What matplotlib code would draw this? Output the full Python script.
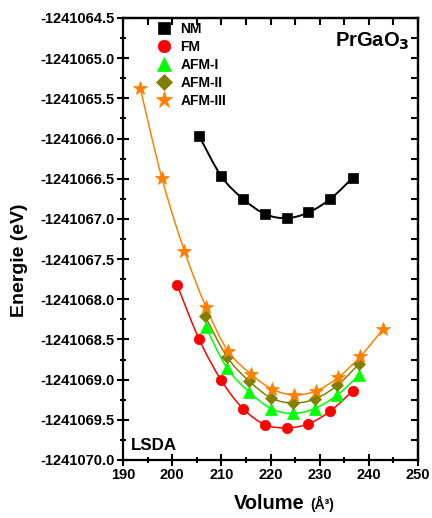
import matplotlib
matplotlib.use('Agg')
import matplotlib.pyplot as plt
from matplotlib.path import Path
from matplotlib.patches import PathPatch
from matplotlib.lines import Line2D
from matplotlib.ticker import MultipleLocator, FormatStrFormatter

plt.rcParams['font.family'] = ['Liberation Sans', 'DejaVu Sans']
plt.rcParams['font.weight'] = 'bold'

# volumes (A^3) and total energies (eV)
nm_v = [205.5, 210.0, 214.4, 218.9, 223.3, 227.7, 232.2, 236.7]
nm_e = [-1241065.97, -1241066.47, -1241066.75, -1241066.94, -1241066.99,
        -1241066.92, -1241066.75, -1241066.49]

fm_v = [201.0, 205.5, 210.0, 214.4, 218.9, 223.3, 227.7, 232.2, 236.7]
fm_e = [-1241067.82, -1241068.50, -1241069.01, -1241069.36, -1241069.56,
        -1241069.60, -1241069.55, -1241069.39, -1241069.14]

afm1_v = [206.8, 211.1, 215.6, 220.1, 224.5, 229.0, 233.6, 238.1]
afm1_e = [-1241068.34, -1241068.85, -1241069.15, -1241069.36, -1241069.42,
          -1241069.36, -1241069.19, -1241068.94]

afm2_v = [206.7, 211.2, 215.7, 220.2, 224.6, 229.1, 233.6, 238.1]
afm2_e = [-1241068.21, -1241068.72, -1241069.02, -1241069.23, -1241069.29,
          -1241069.24, -1241069.07, -1241068.80]

afm3_v = [193.5, 197.9, 202.5, 206.9, 211.3, 216.0, 220.4, 224.8, 229.3,
          233.8, 238.3, 242.9]
afm3_e = [-1241065.37, -1241066.49, -1241067.40, -1241068.10, -1241068.64,
          -1241068.93, -1241069.12, -1241069.19, -1241069.14, -1241068.97,
          -1241068.71, -1241068.37]

labels = ['NM', 'FM', 'AFM-I', 'AFM-II', 'AFM-III']
colors = ['#000000', '#ff0000', '#00ff00', '#808000', '#ff8000']
markers = ['s', 'o', '^', 'D', '*']
msizes = [6.5, 7.5, 8, 6.5, 10.5]
leg_sizes = [8, 9, 10, 8, 12.5]
series = [(nm_v, nm_e), (fm_v, fm_e), (afm1_v, afm1_e), (afm2_v, afm2_e), (afm3_v, afm3_e)]


def smooth_path(x, y):
    # catmull-rom through the points, handed to matplotlib as bezier segments
    pts = list(zip(x, y))
    n = len(pts)
    verts = [pts[0]]
    codes = [Path.MOVETO]
    for i in range(n - 1):
        p0 = pts[max(i - 1, 0)]
        p1 = pts[i]
        p2 = pts[i + 1]
        p3 = pts[min(i + 2, n - 1)]
        c1 = (p1[0] + (p2[0] - p0[0]) / 6, p1[1] + (p2[1] - p0[1]) / 6)
        c2 = (p2[0] - (p3[0] - p1[0]) / 6, p2[1] - (p3[1] - p1[1]) / 6)
        verts += [c1, c2, p2]
        codes += [Path.CURVE4] * 3
    return Path(verts, codes)


fig = plt.figure(figsize=(4.32, 5.18), dpi=100)
ax = fig.add_axes([123 / 432, 1 - 460 / 518, 295 / 432, 442 / 518])

order = [1, 2, 3, 4, 0]
for k in order:
    v, e = series[k]
    lw = 1.4 if k == 0 else 1.1
    ax.add_patch(PathPatch(smooth_path(v, e), facecolor='none', edgecolor=colors[k], lw=lw, zorder=2))
for k in order:
    v, e = series[k]
    ax.plot(v, e, linestyle='none', marker=markers[k], ms=msizes[k], color=colors[k],
            markeredgewidth=0.5, zorder=3)

ax.set_xlim(190, 250)
ax.set_ylim(-1241070.0, -1241064.5)
ax.xaxis.set_major_locator(MultipleLocator(10))
ax.xaxis.set_minor_locator(MultipleLocator(5))
ax.yaxis.set_major_locator(MultipleLocator(0.5))
ax.yaxis.set_minor_locator(MultipleLocator(0.25))
ax.yaxis.set_major_formatter(FormatStrFormatter('%.1f'))
ax.tick_params(which='major', direction='inout', length=8, width=1.5)
ax.tick_params(which='minor', direction='inout', length=5, width=1.5)
ax.tick_params(axis='y', labelsize=10.5, pad=2)
ax.tick_params(axis='x', labelsize=10.5, pad=2)
for lab in ax.get_xticklabels() + ax.get_yticklabels():
    lab.set_fontweight('bold')
for sp in ax.spines.values():
    sp.set_linewidth(1.6)

# inward ticks on the top and right frame
top = ax.secondary_xaxis('top')
top.xaxis.set_major_locator(MultipleLocator(10))
top.xaxis.set_minor_locator(MultipleLocator(5))
top.tick_params(which='both', direction='in', length=5, width=1.5, labeltop=False)
right = ax.secondary_yaxis('right')
right.yaxis.set_major_locator(MultipleLocator(0.5))
right.yaxis.set_minor_locator(MultipleLocator(0.25))
right.tick_params(which='both', direction='in', length=5, width=1.5, labelright=False)
for sec in (top, right):
    for sp in sec.spines.values():
        sp.set_linewidth(1.6)

ax.set_ylabel('Energie (eV)', fontsize=14, fontweight='bold')
ax.yaxis.label.set_va('baseline')
ax.yaxis.set_label_coords((24 - 123) / 295, 1 - (260 - 18) / 442)
ax.set_xlabel('Volume', fontsize=14.4, fontweight='bold')
ax.xaxis.label.set_va('baseline')
ax.xaxis.label.set_ha('left')
ax.xaxis.set_label_coords((234 - 123) / 295, (460 - 509) / 442)
ax.text((310 - 123) / 295, (460 - 509) / 442, '(Å³)', transform=ax.transAxes,
        fontsize=10, fontweight='bold', va='baseline', ha='left')

ax.text((410 - 123) / 295, 1 - (47 - 18) / 442, 'PrGaO$_\\mathbf{3}$', transform=ax.transAxes,
        fontsize=14.5, fontweight='bold', ha='right', va='baseline')
ax.text((131 - 123) / 295, (460 - 450) / 442, 'LSDA', transform=ax.transAxes,
        fontsize=12.2, fontweight='bold', ha='left', va='baseline')

handles = [Line2D([], [], linestyle='none', marker=markers[k], ms=leg_sizes[k],
                  color=colors[k], markeredgewidth=0.5) for k in range(5)]
ax.legend(handles, labels, loc='upper left', bbox_to_anchor=((157 - 123) / 295, 1 - 4 / 442),
          frameon=False, borderpad=0, borderaxespad=0, handlelength=1.0,
          handletextpad=0.7, labelspacing=0.29, prop={'size': 10, 'weight': 'bold'})

fig.savefig('out.png', dpi=100)
